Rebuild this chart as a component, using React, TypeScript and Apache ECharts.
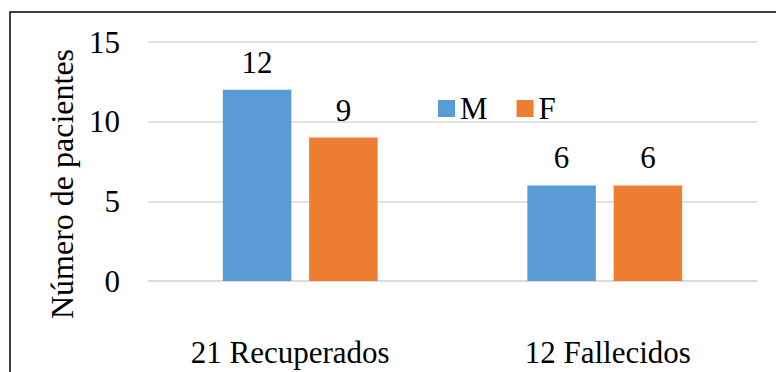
import React, { useEffect, useRef } from "react";
import * as echarts from "echarts";

const categories = ["21 Recuperados", "12 Fallecidos"];
const maleValues = [12, 6];
const femaleValues = [9, 6];
const seriesNames = ["M", "F"];

const FONT = "Liberation Serif";
const FS = 31;
// horizontal nudge of each category label (px, negative = left)
const labelShift = [-10, 3];

export default function App() {
  const ref = useRef<HTMLDivElement>(null);

  useEffect(() => {
    if (!ref.current) return;
    const chart = echarts.init(ref.current, undefined, { renderer: "svg" });
    const label = {
      show: true,
      position: "top" as const,
      distance: 12,
      color: "#000",
      fontFamily: FONT,
      fontSize: FS,
    };
    chart.setOption({
      animation: false,
      backgroundColor: "#fff",
      textStyle: { fontFamily: FONT },
      grid: { left: 148, right: 19, top: 42, bottom: 91 },
      legend: {
        left: 433,
        top: 88,
        itemWidth: 17,
        itemHeight: 17,
        itemGap: 29,
        icon: "rect",
        textStyle: { fontFamily: FONT, fontSize: FS, color: "#000" },
        data: seriesNames,
      },
      xAxis: {
        type: "category",
        data: categories.map((c, i) => ({
          value: c,
          textStyle: {
            padding:
              labelShift[i] < 0
                ? [0, -2 * labelShift[i], 0, 0]
                : [0, 0, 0, 2 * labelShift[i]],
          },
        })),
        axisTick: { show: false },
        axisLine: { lineStyle: { color: "#d9d9d9", width: 1.5 } },
        axisLabel: { margin: 56, color: "#000", fontFamily: FONT, fontSize: FS },
      },
      yAxis: {
        type: "value",
        min: 0,
        max: 15,
        interval: 5,
        axisLine: { show: false },
        axisTick: { show: false },
        splitLine: { lineStyle: { color: "#d9d9d9", width: 1.5 } },
        axisLabel: { margin: 28, color: "#000", fontFamily: FONT, fontSize: FS },
      },
      graphic: [
        {
          type: "rect",
          shape: { x: 10, y: 12, width: 800, height: 400 },
          style: { fill: "none", stroke: "#000", lineWidth: 1.5 },
          silent: true,
        },
        {
          type: "text",
          x: 62,
          y: 184,
          rotation: Math.PI / 2,
          style: {
            text: "Número de pacientes",
            fontFamily: FONT,
            fontSize: 32,
            fill: "#000",
            align: "center",
            verticalAlign: "middle",
          },
        },
      ],
      series: [
        {
          name: seriesNames[0],
          type: "bar",
          data: maleValues,
          barWidth: 68.5,
          barGap: "26%",
          itemStyle: { color: "#5B9BD5" },
          label,
        },
        {
          name: seriesNames[1],
          type: "bar",
          data: femaleValues,
          barWidth: 68.5,
          barGap: "26%",
          itemStyle: { color: "#ED7D31" },
          label,
        },
      ],
    });
    return () => chart.dispose();
  }, []);

  return (
    <div
      ref={ref}
      style={{ position: "fixed", left: 0, top: 0, width: 776, height: 372 }}
    />
  );
}
